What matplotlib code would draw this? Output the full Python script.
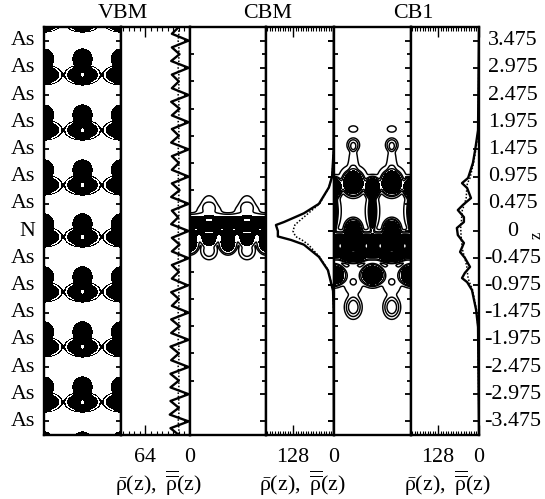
import numpy as np
import matplotlib
matplotlib.use('Agg')
import matplotlib.pyplot as plt

plt.rcParams['font.family'] = ['Liberation Serif', 'DejaVu Serif']
plt.rcParams['mathtext.fontset'] = 'custom'
plt.rcParams['mathtext.rm'] = 'Liberation Serif'
plt.rcParams['mathtext.it'] = 'Liberation Serif'

W, H = 545, 499
TOP, BOTTOM = 27, 435
FS = 15.8

# panel edges in pixels
EDGES = [44, 121, 190, 266, 334, 411, 479]

site_labels = ['As'] * 7 + ['N'] + ['As'] * 7
z_labels = ['3.475', '2.975', '2.475', '1.975', '1.475', '0.975', '0.475', '0',
            '-0.475', '-0.975', '-1.475', '-1.975', '-2.475', '-2.975', '-3.475']
site_pos = list(range(7, -8, -1))
titles = ['VBM', 'CBM', 'CB1']

vbm_cols = (0.0, 0.5, 1.0)
vbm_upper_z = (6.32, 4.26, 2.24, 0.26, -1.69, -3.71, -5.74, -7.76)
vbm_lower_z = (7.68, 5.74, 3.71, 1.69, -0.22, -2.24, -4.26, -6.29)

# lobes of each density map: x, z, amp, radius x, radius z
vbm_lobes = [(c, z, 1.0, 0.16, 0.25) for c in vbm_cols for z in vbm_lower_z]
vbm_cores = [(c, z, 1.0, 0.1, 0.3) for c in vbm_cols for z in vbm_upper_z] + \
            [(c, z, 1.0, 0.115, 0.3) for c in vbm_cols for z in vbm_lower_z]
vbm_dots = [(0.5, z, 1.0, 0.012, 0.045) for z in vbm_lower_z]

cbm_blobs = [
    (0.5, 0.2, 1.0, 5.0, 0.3),
    (0.25, 0.7, 0.12, 0.14, 0.3), (0.75, 0.7, 0.12, 0.14, 0.3),
    (0.25, 0.95, 0.12, 0.08, 0.3), (0.75, 0.95, 0.12, 0.08, 0.3),
    (0.5, -0.42, 1.0, 0.085, 0.3), (0.0, -0.42, 1.0, 0.085, 0.3), (1.0, -0.42, 1.0, 0.085, 0.3),
    (0.25, -0.3, 0.8, 0.09, 0.2), (0.75, -0.3, 0.8, 0.09, 0.2),
    (0.25, -0.72, 0.2, 0.085, 0.26), (0.75, -0.72, 0.2, 0.085, 0.26),
    (0.25, 0.4, -0.6, 0.1, 0.05), (0.75, 0.4, -0.6, 0.1, 0.05),
    (0.25, -0.05, -0.7, 0.06, 0.05), (0.75, -0.05, -0.7, 0.06, 0.05),
    (0.08, 0.05, -0.6, 0.04, 0.04), (0.42, 0.05, -0.6, 0.04, 0.04),
    (0.58, 0.05, -0.6, 0.04, 0.04), (0.92, 0.05, -0.6, 0.04, 0.04),
]

cb1_blobs = [
    (0.25, 3.75, 0.12, 0.05, 0.1), (0.75, 3.75, 0.12, 0.05, 0.1),
    (0.25, 3.16, 0.3, 0.06, 0.19), (0.75, 3.16, 0.3, 0.06, 0.19),
    (0.25, 2.5, 0.12, 0.05, 0.5), (0.75, 2.5, 0.12, 0.05, 0.5),
    (0.25, 1.95, 0.1, 0.17, 0.45), (0.75, 1.95, 0.1, 0.17, 0.45),
    (0.25, 1.76, 1.0, 0.11, 0.36), (0.75, 1.76, 1.0, 0.11, 0.36),
    (0.5, 1.6, 1.0, 0.08, 0.3), (0.0, 1.6, 1.0, 0.08, 0.3), (1.0, 1.6, 1.0, 0.08, 0.3),
    (0.5, 0.75, 0.8, 0.03, 0.6), (0.0, 0.75, 0.8, 0.03, 0.6), (1.0, 0.75, 0.8, 0.03, 0.6),
    (0.5, 0.75, 0.12, 0.08, 0.6), (0.0, 0.75, 0.12, 0.08, 0.6), (1.0, 0.75, 0.12, 0.08, 0.6),
    (0.5, 0.7, 0.1, 0.06, 0.5), (0.0, 0.7, 0.1, 0.06, 0.5), (1.0, 0.7, 0.1, 0.06, 0.5),
    (0.25, 0.04, 1.0, 0.085, 0.3), (0.75, 0.04, 1.0, 0.085, 0.3),
    (0.5, -0.55, 1.0, 5.0, 0.38),
    (0.25, -1.0, 0.6, 0.12, 0.15), (0.75, -1.0, 0.6, 0.12, 0.15),
    (0.08, -0.55, -0.9, 0.03, 0.14), (0.42, -0.55, -0.9, 0.03, 0.14),
    (0.6, -0.55, -0.9, 0.03, 0.14), (0.92, -0.55, -0.9, 0.03, 0.14),
    (0.25, -0.75, -0.9, 0.05, 0.05), (0.75, -0.75, -0.9, 0.05, 0.05),
    (0.5, -1.62, 1.0, 0.115, 0.31), (0.0, -1.62, 1.0, 0.115, 0.31), (1.0, -1.62, 1.0, 0.115, 0.31),
    (0.25, -1.8, 0.12, 0.11, 0.5), (0.75, -1.8, 0.12, 0.11, 0.5),
    (0.25, -1.87, 0.14, 0.035, 0.1), (0.75, -1.87, 0.14, 0.035, 0.1),
    (0.25, -2.8, 0.35, 0.083, 0.32), (0.75, -2.8, 0.35, 0.083, 0.32),
]

# averaged profiles
vbm_z = np.arange(7.5, -7.75, -0.25)
vbm_avg = [16, 26, 2, 26, 15, 27, 2, 26, 16, 26, 2, 27, 15, 26, 2, 26,
           16, 27, 2, 26, 16, 26, 2, 26, 15, 27, 2, 26, 17, 27, 2, 26,
           15, 26, 2, 26, 16, 26, 3, 27, 16, 26, 2, 27, 15, 27, 2, 28,
           16, 27, 2, 28, 16, 28, 2, 28, 16, 29, 2, 28, 16]
vbm_macro = [16, 16, 17, 16, 16, 16, 17, 16, 16, 16, 17, 16, 16, 16, 17, 16,
             16, 16, 17, 16, 16, 16, 17, 16, 16, 16, 17, 16, 16, 16, 17, 16,
             16, 16, 17, 16, 16, 16, 17, 16, 16, 16, 17, 16, 16, 16, 17, 16,
             16, 16, 17, 16, 16, 16, 17, 16, 16, 16, 17, 16, 16]

cbm_z = [7.5, 3.0, 2.0, 1.6, 1.0, 0.65, 0.33, 0.22, 0.0, -0.2, -0.33, -0.5, -0.95, -1.44, -2.2, -3.0, -7.5]
cbm_avg = [0, 1, 6, 16, 47, 94, 156, 181, 175, 175, 134, 94, 47, 19, 3, 1, 0]
cbm_macro = [0, 1, 6, 16, 45, 80, 112, 122, 128, 120, 100, 80, 45, 18, 3, 1, 0]

cb1_z = [7.5, 3.71, 2.98, 2.5, 1.95, 1.76, 1.58, 1.21, 0.96, 0.77, 0.51, 0.33, 0.11,
         -0.15, -0.44, -0.77, -0.99, -1.32, -1.54, -1.73, -1.88, -2.17, -2.9, -3.53, -7.5]
cb1_avg = [0, 3, 12, 19, 34, 53, 37, 25, 50, 66, 47, 47, 69,
           66, 47, 59, 44, 28, 44, 53, 37, 22, 9, 3, 0]
cb1_macro = [0, 2, 10, 17, 28, 36, 38, 40, 46, 52, 54, 55, 57,
             56, 54, 50, 44, 38, 36, 34, 30, 20, 8, 3, 0]

profile_max = [99, 212, 212]
profile_tick = [64, 128, 128]


def px_axes(fig, left, right):
    return fig.add_axes([left / W, 1 - BOTTOM / H, (right - left) / W, (BOTTOM - TOP) / H])


def field(blobs, x, z):
    out = np.zeros_like(x)
    for cx, cz, amp, sx, sz in blobs:
        r2 = (x - cx) ** 2 / sx ** 2 + (z - cz) ** 2 / sz ** 2
        out += amp * np.exp(-0.5 * r2 ** 2)
    return out


def draw_density(ax, layers):
    x, z = np.meshgrid(np.linspace(0, 1, 400), np.linspace(-7.5, 7.5, 1600))
    for blobs, fills, colors, lines in layers:
        f = field(blobs, x, z)
        ax.contourf(x, z, f, levels=fills, colors=colors)
        if lines:
            ax.contour(x, z, f, levels=lines, colors='k', linewidths=1.05)
    ax.set_xlim(0, 1)
    ax.set_ylim(-7.5, 7.5)
    ax.set_xticks([])


def draw_profile(ax, z, avg, macro, xmax, big):
    ax.plot(avg, z, color='k', lw=1.7)
    ax.plot(macro, z, color='k', lw=1.1, ls=(0, (1, 1.2)))
    ax.set_xlim(xmax, 0)
    ax.set_ylim(-7.5, 7.5)
    ax.set_xticks([big, 0])
    ax.set_xticks(np.arange(0, xmax, 8), minor=True)
    ax.tick_params(axis='x', which='major', direction='in', top=True, length=7, width=1, labelbottom=False)
    ax.tick_params(axis='x', which='minor', direction='in', top=True, length=3.2, width=0.8)


def set_sides(ax):
    for s in ax.spines.values():
        s.set_linewidth(1.7)
    ax.set_yticks([])


def side_ticks(ax, x, pos, left, right, lw=1.3):
    # little ticks on a spine, given in axes widths left and right of it
    for p in pos:
        ax.plot([x - left, x + right], [p, p], color='k', lw=lw, clip_on=False, zorder=5,
                transform=ax.get_yaxis_transform(), solid_capstyle='butt')


def main():
    fig = plt.figure(figsize=(W / 100, H / 100), dpi=100)
    layers = [
        [(vbm_lobes, [0.1, 0.2, 0.36, 9], ['k', 'w', 'k'], None),
         (vbm_cores, [0.3, 9], ['k'], None),
         (vbm_dots, [0.5, 9], ['w'], None)],
        [(cbm_blobs, [0.5, 5], ['k'], [0.05, 0.16])],
        [(cb1_blobs, [0.5, 5], ['k'], [0.05, 0.18, 0.3])],
    ]
    profiles = [(vbm_z, vbm_avg, vbm_macro), (cbm_z, cbm_avg, cbm_macro), (cb1_z, cb1_avg, cb1_macro)]
    half = [p + 0.5 for p in site_pos[:-1]]

    for i in range(3):
        a = px_axes(fig, EDGES[2 * i], EDGES[2 * i + 1])
        b = px_axes(fig, EDGES[2 * i + 1], EDGES[2 * i + 2])
        draw_density(a, layers[i])
        draw_profile(b, *profiles[i], profile_max[i], profile_tick[i])
        set_sides(a)
        set_sides(b)
        wa = EDGES[2 * i + 1] - EDGES[2 * i]
        wb = EDGES[2 * i + 2] - EDGES[2 * i + 1]
        if i == 0:
            side_ticks(a, 0, site_pos[::2], 0, 5 / wa)
            side_ticks(a, 1, site_pos[::2], 5 / wa, 6 / wa)
            side_ticks(a, 1, site_pos[1::2], 0, 4 / wa)
        else:
            side_ticks(a, 0, site_pos, 6 / wa, 0)
            side_ticks(a, 0, half, 0, 4 / wa)
            side_ticks(a, 1, site_pos, 6 / wa, 6 / wa)
            side_ticks(a, 1, half, 4 / wa, 0)
        side_ticks(b, 1, site_pos, 6 / wb, 0)
        if i < 2:
            side_ticks(b, 1, half, 0, 3 / wb)
        fig.text((EDGES[2 * i + 1] + 2) / W, 1 - 13 / H, titles[i], fontsize=FS, ha='center', va='center')
        tx = EDGES[2 * i + 2] - profile_tick[i] * (wb / profile_max[i])
        fig.text(tx / W, 1 - 457 / H, str(profile_tick[i]), fontsize=FS, ha='center', va='center')
        fig.text(EDGES[2 * i + 2] / W, 1 - 457 / H, '0', fontsize=FS, ha='center', va='center')
        fig.text((EDGES[2 * i + 2] - 32) / W, 1 - 483 / H,
                 r'$\bar{\mathrm{\rho}}\mathrm{(z),}\ \overline{\overline{\mathrm{\rho}}}\mathrm{(z)}$',
                 fontsize=FS, ha='center', va='center')
        if i == 0:
            for p, t in zip(site_pos, site_labels):
                a.text(-9 / wa, p, t, transform=a.get_yaxis_transform(), fontsize=FS, ha='right', va='center')
        if i == 2:
            for p, t in zip(site_pos, z_labels):
                b.text(1 + 34 / wb, p, t, transform=b.get_yaxis_transform(), fontsize=FS, ha='center', va='center')

    fig.text(537 / W, 1 - 235 / H, 'z', fontsize=12, rotation=90, ha='center', va='center')
    fig.savefig('out.png', dpi=100)


if __name__ == '__main__':
    main()
